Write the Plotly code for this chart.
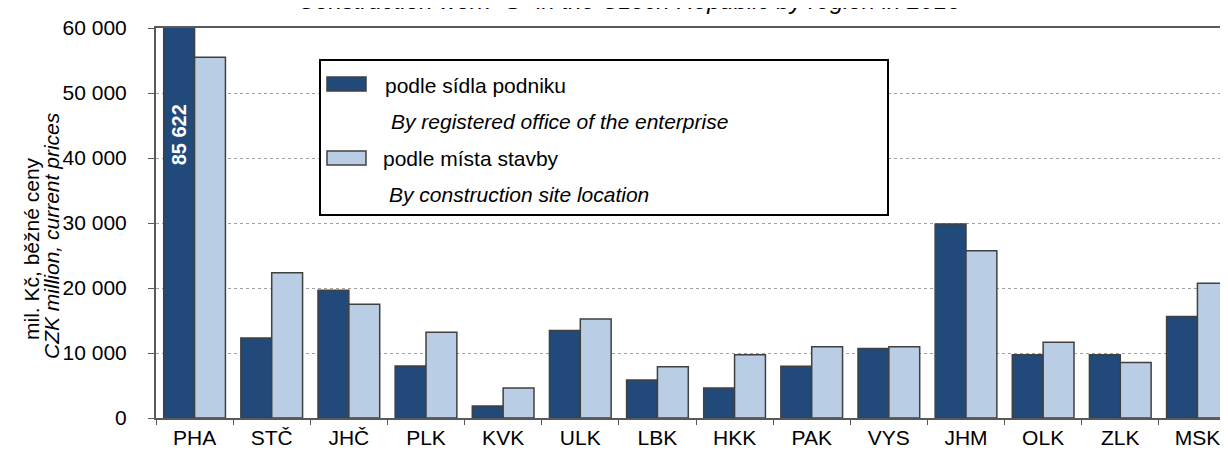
import plotly.graph_objects as go

# regions (NUTS3 codes)
regions = ["PHA", "STČ", "JHČ", "PLK", "KVK", "ULK", "LBK",
           "HKK", "PAK", "VYS", "JHM", "OLK", "ZLK", "MSK"]

# mil. Kč, current prices
by_office = [85622, 12300, 19650, 8000, 1850, 13450, 5850,
             4600, 7950, 10700, 29850, 9750, 9750, 15600]
by_site = [55500, 22350, 17500, 13200, 4600, 15250, 7900,
           9750, 10950, 10950, 25750, 11650, 8550, 20750]

name_office = "podle sídla podniku"
name_office_en = "By registered office of the enterprise"
name_site = "podle místa stavby"
name_site_en = "By construction site location"

title_text = 'Construction work "S" in the Czech Republic by region in 2016'
ytitle_cz = "mil. Kč, běžné ceny"
ytitle_en = "CZK million, current prices"

y_max = 60000

DARK = "#214A7B"
LIGHT = "#B9CDE5"
EDGE = "#404040"
FONT = "Liberation Sans"

# plot area in pixels
W_FIG, H_FIG = 1228, 451
L, R, T, B = 148, 0, 20, 41
PW = W_FIG - L - R
PH = H_FIG - T - B


def px(x):
    return (x - L) / PW


def py(y):
    return (H_FIG - B - y) / PH


fig = go.Figure()
fig.add_trace(go.Bar(x=regions, y=by_office, name=name_office,
                     marker=dict(color=DARK, line=dict(color=EDGE, width=1.5))))
fig.add_trace(go.Bar(x=regions, y=by_site, name=name_site,
                     marker=dict(color=LIGHT, line=dict(color=EDGE, width=1.5))))

# value of the clipped Prague bar
fig.add_annotation(x=regions[0], y=43500, xref="x", yref="y",
                   text="<b>" + f"{by_office[0]:,}".replace(",", " ") + "</b>",
                   textangle=-90, showarrow=False, xshift=-15.5,
                   font=dict(family=FONT, size=20, color="white"))

# title, mostly cut off at the top edge
fig.add_annotation(x=px(621), y=1, xref="paper", yref="paper",
                   xanchor="center", yanchor="bottom",
                   yshift=12, text="<i>" + title_text + "</i>", showarrow=False,
                   font=dict(family=FONT, size=24, color="black"))

# y axis title (two lines)
fig.add_annotation(x=px(23), y=py(241), xref="paper", yref="paper",
                   xanchor="center", yanchor="middle",
                   text=ytitle_cz, textangle=-90, showarrow=False,
                   font=dict(family=FONT, size=21, color="black"))
fig.add_annotation(x=px(43), y=py(228), xref="paper", yref="paper",
                   xanchor="center", yanchor="middle",
                   text="<i>" + ytitle_en + "</i>", textangle=-90, showarrow=False,
                   font=dict(family=FONT, size=21, color="black"))

# hand-drawn legend box
fig.add_shape(type="rect", xref="paper", yref="paper",
              x0=px(312), x1=px(880), y0=py(207), y1=py(52),
              line=dict(color="black", width=2), fillcolor="white", layer="above")
for y0, y1, col in [(69, 83, DARK), (143, 157, LIGHT)]:
    fig.add_shape(type="rect", xref="paper", yref="paper",
                  x0=px(319), x1=px(358), y0=py(y1), y1=py(y0),
                  line=dict(color=EDGE, width=1.5), fillcolor=col, layer="above")
for x, y, txt in [(375, 77, name_office), (381, 113, "<i>" + name_office_en + "</i>"),
                  (373, 150, name_site), (379, 186, "<i>" + name_site_en + "</i>")]:
    fig.add_annotation(x=px(x), y=py(y), xref="paper", yref="paper",
                       xanchor="left", yanchor="middle", text=txt, showarrow=False,
                       font=dict(family=FONT, size=21, color="black"))

fig.update_layout(
    width=W_FIG, height=H_FIG,
    margin=dict(l=L, r=R, t=T, b=B),
    paper_bgcolor="white", plot_bgcolor="white",
    barmode="group", bargap=0.2, bargroupgap=0,
    showlegend=False,
    separators=", ",
    font=dict(family=FONT, size=21, color="black"),
)
fig.update_xaxes(
    showline=True, linecolor="#595959", linewidth=2, mirror=True,
    ticks="outside", tickson="boundaries", ticklen=5, tickcolor="#595959",
    tickfont=dict(size=21), showgrid=False, automargin=False,
)
fig.update_yaxes(
    range=[0, y_max], dtick=10000, tickformat=",d",
    showline=True, linecolor="#595959", linewidth=2,
    ticks="outside", ticklen=6, tickcolor="#595959", ticklabelstandoff=17,
    showgrid=True, gridcolor="#a0a0a0", griddash="dot", gridwidth=1,
    tickfont=dict(size=21), zeroline=False, automargin=False,
)

fig.write_html("out.html")
